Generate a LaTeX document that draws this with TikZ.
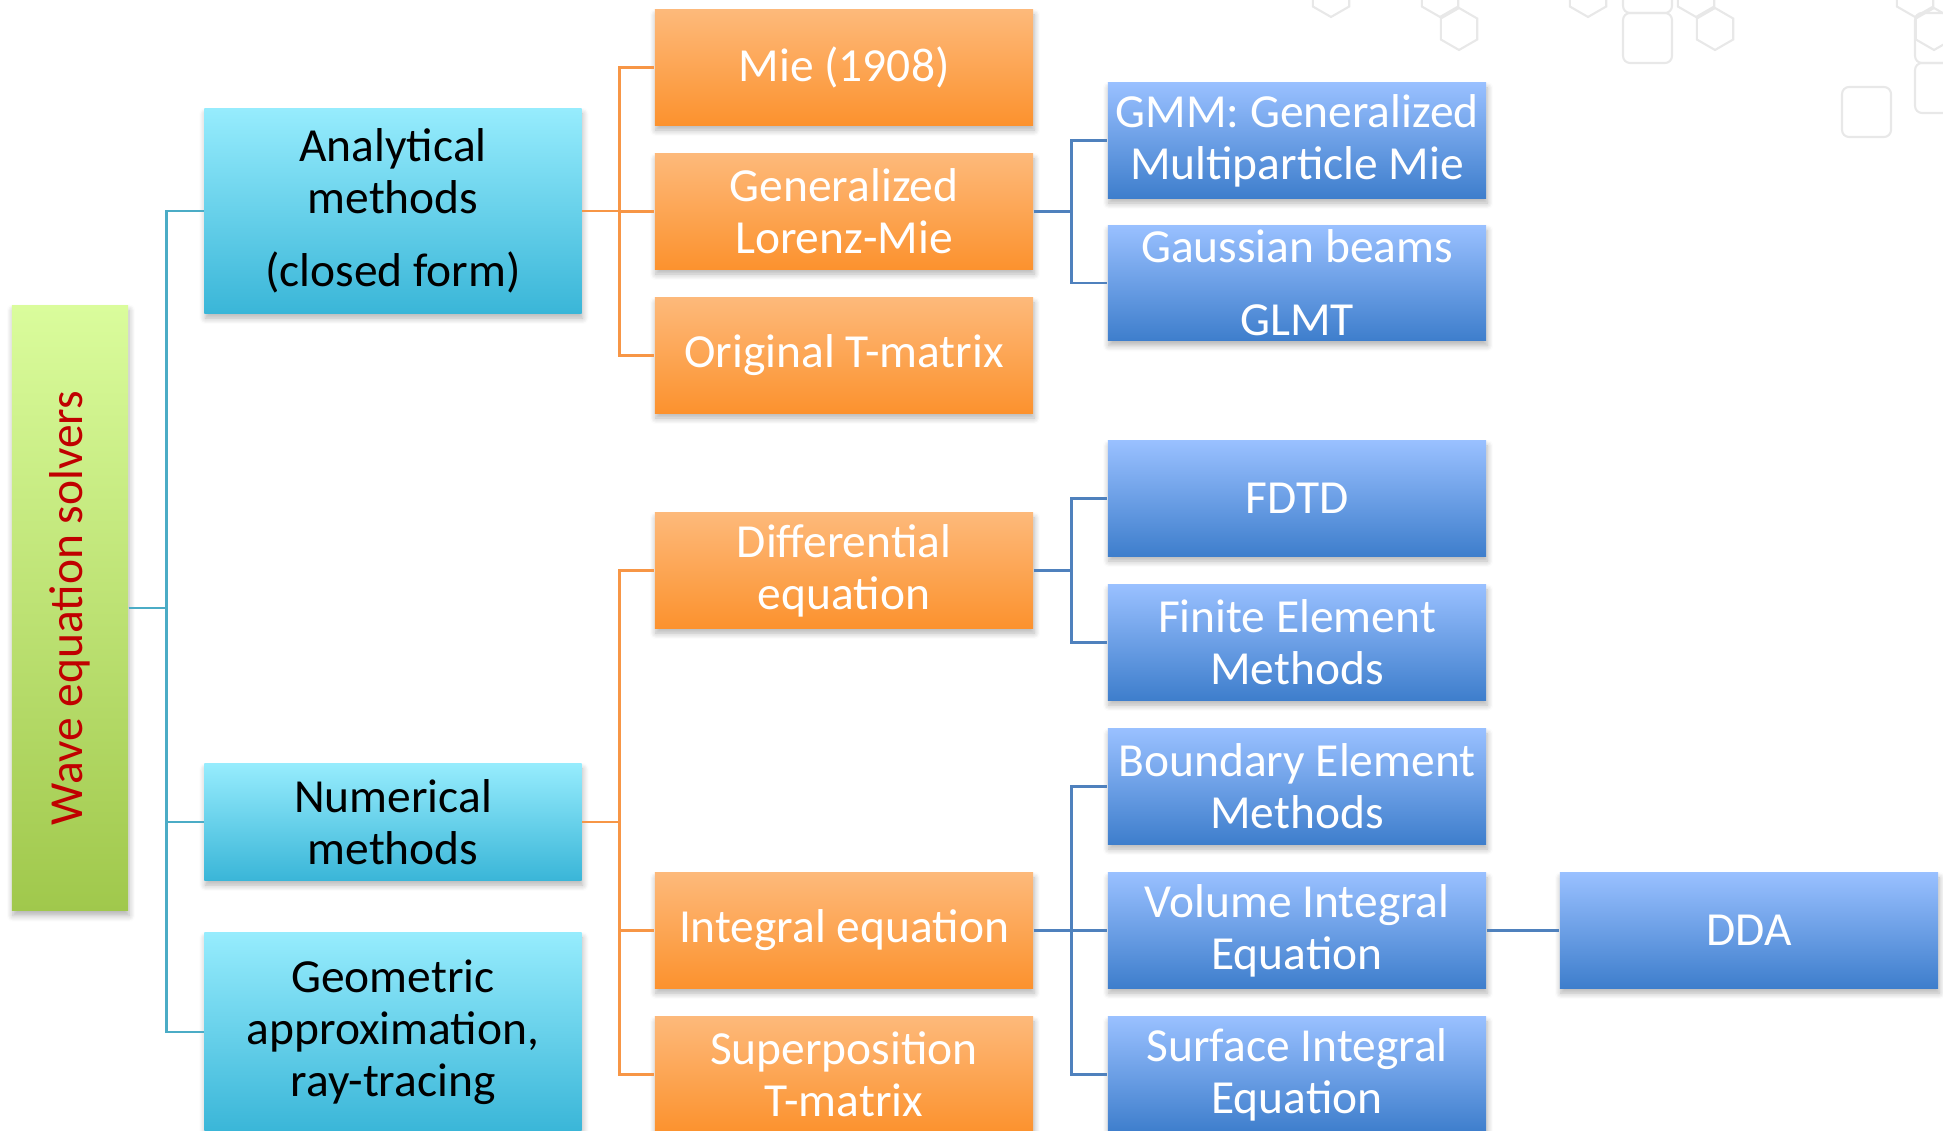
\documentclass[tikz,border=0pt]{standalone}
\usepackage{graphicx}
\usepackage{fontspec}
\setmainfont{Carlito}
\usepackage{tikz}
\usetikzlibrary{shadows.blur}

\definecolor{greentop}{RGB}{218,252,156}
\definecolor{greenbot}{RGB}{160,200,76}
\definecolor{darkred}{RGB}{192,0,0}
\definecolor{cyantop}{RGB}{150,236,253}
\definecolor{cyanbot}{RGB}{58,182,216}
\definecolor{orgtop}{RGB}{253,185,122}
\definecolor{orgbot}{RGB}{252,146,46}
\definecolor{blutop}{RGB}{153,192,255}
\definecolor{blubot}{RGB}{62,126,204}
\definecolor{lnone}{RGB}{75,172,198}
\definecolor{lntwo}{RGB}{247,150,70}
\definecolor{lnthree}{RGB}{79,129,189}

\begin{document}
\begin{tikzpicture}[x=0.01cm, y=-0.01cm,
    box/.style={inner sep=0pt, align=center, font=\fontsize{13.5}{14.8}\selectfont,
        blur shadow={shadow xshift=0.01cm, shadow yshift=-0.05cm, shadow opacity=30, shadow blur steps=6, shadow blur radius=0.06cm}},
    root/.style={box, minimum width=1.16cm, minimum height=6.05cm, top color=greentop, bottom color=greenbot, text=darkred},
    cat/.style={box, minimum width=3.77cm, top color=cyantop, bottom color=cyanbot, text=black},
    sub/.style={box, minimum width=3.78cm, minimum height=1.15cm, top color=orgtop, bottom color=orgbot, text=white},
    meth/.style={box, minimum width=3.78cm, minimum height=1.15cm, top color=blutop, bottom color=blubot, text=white},
    conone/.style={draw=lnone, line width=0.8pt},
    contwo/.style={draw=lntwo, line width=0.8pt},
    conthree/.style={draw=lnthree, line width=0.8pt},
    deco/.style={draw=black!9, line width=0.6pt}
]
\useasboundingbox (0,0) rectangle (1943,1131);

% faint background shapes
\foreach \hx/\hy in {1331/-4, 1440/-4, 1459/29, 1588/-4, 1696/-4, 1715/29, 1915/-4, 1934/29}
    \draw[deco, shift={(\hx,\hy)}] (90:21) -- (150:21) -- (210:21) -- (270:21) -- (330:21) -- (30:21) -- cycle;
\foreach \sx/\sy in {1623/-37, 1623/13, 1842/87, 1915/13, 1915/63}
    \draw[deco, rounded corners=2pt] (\sx,\sy) rectangle ++(49,50);

% root and categories
\node[root] (wave) at (70,608) {\rotatebox{90}{Wave equation solvers}};
\node[cat, minimum height=2.04cm] (anal) at (393,211) {Analytical\\methods\\[6pt](closed form)};
\node[cat, minimum height=1.16cm] (num) at (393,822) {Numerical\\methods};
\node[cat, minimum height=1.98cm] (geo) at (393,1032) {Geometric\\approximation,\\ray-tracing};

% second level
\node[sub] (mie) at (844,67.5) {Mie (1908)};
\node[sub] (glm) at (844,211.5) {Generalized\\Lorenz-Mie};
\node[sub] (otm) at (844,355.5) {Original T-matrix};
\node[sub] (diff) at (844,570.5) {Differential\\equation};
\node[sub] (inte) at (844,930.5) {Integral equation};
\node[sub] (stm) at (844,1074.5) {Superposition\\T-matrix};

% third level
\node[meth] (gmm) at (1297,140.5) {GMM: Generalized\\Multiparticle Mie};
\node[meth] (gauss) at (1297,283) {Gaussian beams\\[6pt]GLMT};
\node[meth] (fdtd) at (1297,498.5) {FDTD};
\node[meth] (fem) at (1297,642.5) {Finite Element\\Methods};
\node[meth] (bem) at (1297,786.5) {Boundary Element\\Methods};
\node[meth] (vie) at (1297,930.5) {Volume Integral\\Equation};
\node[meth] (sie) at (1297,1074.5) {Surface Integral\\Equation};
\node[meth] (dda) at (1749,930.5) {DDA};

% connectors
\foreach \n in {anal,num,geo}
    \draw[conone] (wave.east) -- ++(38,0) |- (\n.west);
\foreach \n in {mie,glm,otm}
    \draw[contwo] (anal.east) -- ++(37,0) |- (\n.west);
\foreach \n in {diff,inte,stm}
    \draw[contwo] (num.east) -- ++(37,0) |- (\n.west);
\foreach \n in {gmm,gauss}
    \draw[conthree] (glm.east) -- ++(38,0) |- (\n.west);
\foreach \n in {fdtd,fem}
    \draw[conthree] (diff.east) -- ++(38,0) |- (\n.west);
\foreach \n in {bem,vie,sie}
    \draw[conthree] (inte.east) -- ++(38,0) |- (\n.west);
\draw[conthree] (vie) -- (dda);
\end{tikzpicture}
\end{document}
